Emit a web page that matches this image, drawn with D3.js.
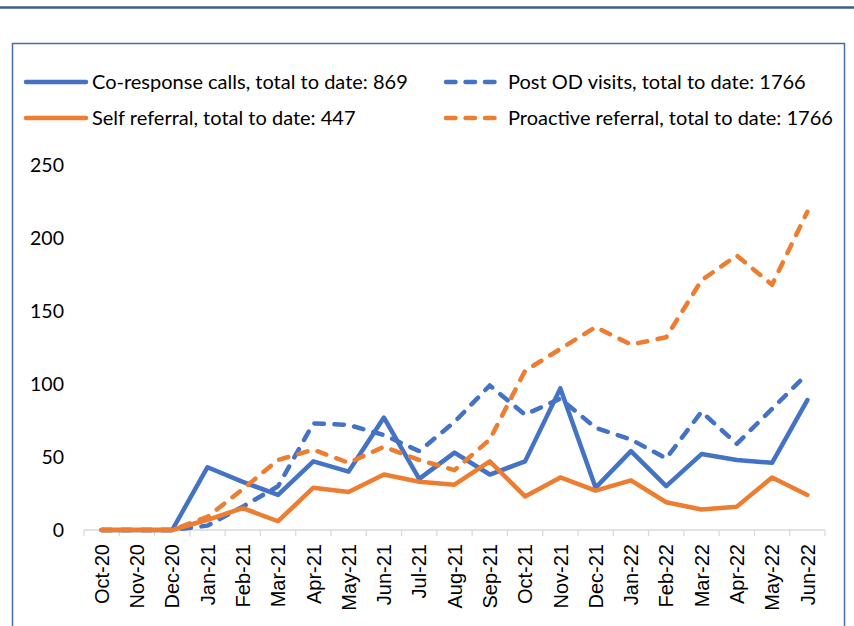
<!DOCTYPE html>
<html>
<head>
<meta charset="utf-8">
<script src="https://cdn.jsdelivr.net/npm/d3@7"></script>
<style>
  body { margin: 0; background: #fff; }
</style>
</head>
<body>
<div id="container"></div>
<script>
var months = ["Oct-20", "Nov-20", "Dec-20", "Jan-21", "Feb-21", "Mar-21", "Apr-21", "May-21", "Jun-21",
    "Jul-21", "Aug-21", "Sep-21", "Oct-21", "Nov-21", "Dec-21", "Jan-22", "Feb-22", "Mar-22", "Apr-22",
    "May-22", "Jun-22"];

var coResponse   = [0, 0, 0, 43, 33, 24, 47, 40, 77, 35, 53, 38, 47, 97, 29, 54, 30, 52, 48, 46, 89];
var postOD       = [0, 0, 0, 3, 16, 30, 73, 72, 65, 54, 74, 99, 79, 90, 70, 62, 49, 81, 59, 83, 107];
var selfReferral = [0, 0, 0, 7, 15, 6, 29, 26, 38, 33, 31, 47, 23, 36, 27, 34, 19, 14, 16, 36, 24];
var proactive    = [0, 0, 0, 9, 28, 48, 55, 46, 57, 48, 41, 62, 109, 124, 139, 127, 132, 171, 188, 168, 218];

var yTicks = [0, 50, 100, 150, 200, 250];

// legend order is row by row, same as the series order
var seriesNames = [
    "Co-response calls, total to date: 869",
    "Post OD visits, total to date: 1766",
    "Self referral, total to date: 447",
    "Proactive referral, total to date: 1766"
];

var width = 854,
    height = 626;

var blue = "#4472C4",
    orange = "#ED7D31";

var series = [
    { name: seriesNames[0], values: coResponse,   color: blue,   dashed: false },
    { name: seriesNames[1], values: postOD,       color: blue,   dashed: true },
    { name: seriesNames[2], values: selfReferral, color: orange, dashed: false },
    { name: seriesNames[3], values: proactive,    color: orange, dashed: true }
];

var svg = d3.select("#container").append("svg")
    .attr("width", width)
    .attr("height", height);

// blue rule on top of the page
svg.append("line")
    .attr("x1", 0).attr("x2", width)
    .attr("y1", 7.5).attr("y2", 7.5)
    .attr("stroke", "#3d5b8f")
    .attr("stroke-width", 2.5);

// chart frame, runs off the bottom of the picture
svg.append("rect")
    .attr("x", 12.5).attr("y", 43.5)
    .attr("width", 832).attr("height", 640)
    .attr("fill", "none")
    .attr("stroke", "#4a6ca6")
    .attr("stroke-width", 1.5);

var x = d3.scaleBand()
    .domain(months)
    .range([84, 825]);

var y = d3.scaleLinear()
    .domain([0, 250])
    .range([530, 165]);

// y labels, no axis line
svg.append("g")
    .selectAll("text")
    .data(yTicks)
    .enter()
    .append("text")
    .attr("x", 64)
    .attr("y", function(d) { return y(d); })
    .attr("dy", "0.35em")
    .attr("text-anchor", "end")
    .style("font-family", "Lato")
    .style("font-size", "19.5px")
    .attr("fill", "#000")
    .text(function(d) { return d; });

// x axis with tick marks between the bands
var xAxis = svg.append("g")
    .attr("transform", "translate(0,530)");

xAxis.append("line")
    .attr("x1", x.range()[0]).attr("x2", x.range()[1])
    .attr("stroke", "#d9d9d9")
    .attr("stroke-width", 1.3);

var boundaries = months.map(function(m) { return x(m); }).concat([x.range()[1]]);
xAxis.selectAll(".tick")
    .data(boundaries)
    .enter()
    .append("line")
    .attr("class", "tick")
    .attr("x1", function(d) { return d; })
    .attr("x2", function(d) { return d; })
    .attr("y1", 0).attr("y2", 6)
    .attr("stroke", "#d9d9d9")
    .attr("stroke-width", 1.3);

xAxis.selectAll(".xlabel")
    .data(months)
    .enter()
    .append("text")
    .attr("class", "xlabel")
    .attr("transform", function(d) {
        return "translate(" + (x(d) + x.bandwidth() / 2) + ",14) rotate(-90)";
    })
    .attr("dy", "0.36em")
    .attr("text-anchor", "end")
    .style("font-family", "Liberation Sans, Arial")
    .style("font-size", "20px")
    .attr("fill", "#000")
    .text(function(d) { return d; });

var line = d3.line()
    .x(function(d, i) { return x(months[i]) + x.bandwidth() / 2; })
    .y(function(d) { return y(d); });

svg.append("g")
    .selectAll("path")
    .data(series)
    .enter()
    .append("path")
    .attr("d", function(d) { return line(d.values); })
    .attr("fill", "none")
    .attr("stroke", function(d) { return d.color; })
    .attr("stroke-width", 4.5)
    .attr("stroke-linejoin", "round")
    .attr("stroke-linecap", "round")
    .attr("stroke-dasharray", function(d) { return d.dashed ? "9.5,10.5" : null; });

// legend, 2 columns
var legend = svg.append("g")
    .selectAll("g")
    .data(series)
    .enter()
    .append("g")
    .attr("transform", function(d, i) {
        var col = i % 2, row = Math.floor(i / 2);
        return "translate(" + (col == 0 ? 26 : 446) + "," + (82 + row * 36) + ")";
    });

legend.append("line")
    .attr("x1", 0)
    .attr("x2", function(d) { return d.dashed ? 48.5 : 60; })
    .attr("stroke", function(d) { return d.color; })
    .attr("stroke-width", 4.5)
    .attr("stroke-linecap", "round")
    .attr("stroke-dasharray", function(d) { return d.dashed ? "9.5,10" : null; });

legend.append("text")
    .attr("x", function(d) { return d.dashed ? 62 : 66; })
    .attr("dy", "0.35em")
    .style("font-family", "Lato")
    .style("font-size", "20px")
    .attr("fill", "#000")
    .text(function(d) { return d.name; });
</script>
</body>
</html>
